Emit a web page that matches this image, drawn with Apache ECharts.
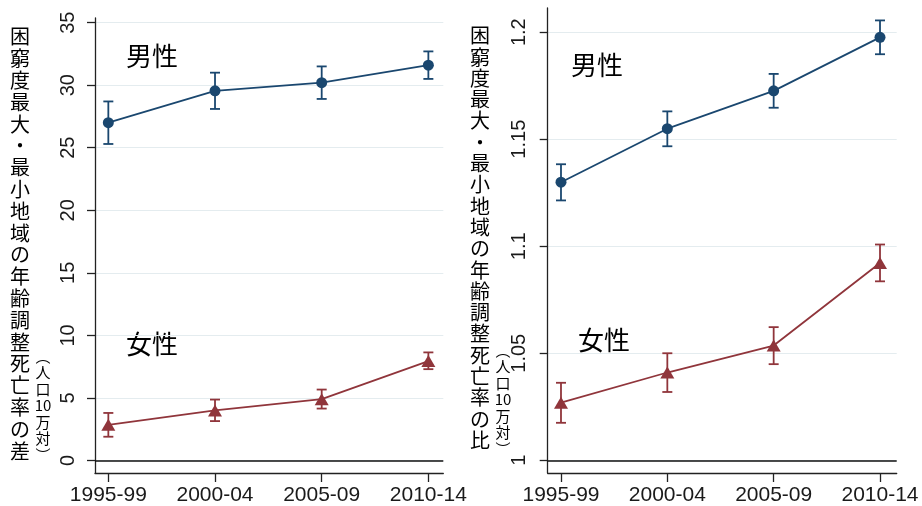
<!DOCTYPE html>
<html>
<head>
<meta charset="utf-8">
<script src="https://cdn.jsdelivr.net/npm/echarts@6/dist/echarts.min.js"></script>
<style>
  html, body { margin: 0; padding: 0; background: #ffffff; }
  #chart { width: 922px; height: 506px; }
</style>
</head>
<body>
<div id="chart"></div>
<script>
// Periods on the horizontal axis
const periods = ['1995-99', '2000-04', '2005-09', '2010-14'];

// Left panel: difference (per 100,000) between most and least deprived areas
const menDiff      = [27.0, 29.55, 30.2, 31.6];
const menDiffLow   = [25.3, 28.1, 28.9, 30.5];
const menDiffHigh  = [28.7, 31.0, 31.5, 32.7];
const womenDiff     = [2.85, 4.0, 4.9, 7.95];
const womenDiffLow  = [1.9, 3.15, 4.15, 7.3];
const womenDiffHigh = [3.8, 4.87, 5.67, 8.64];

// Right panel: ratio between most and least deprived areas
const menRatio      = [1.1299, 1.1549, 1.1726, 1.1976];
const menRatioLow   = [1.1214, 1.1467, 1.1647, 1.1897];
const menRatioHigh  = [1.1383, 1.1630, 1.1805, 1.2055];
const womenRatio     = [1.0269, 1.0410, 1.0536, 1.0922];
const womenRatioLow  = [1.0175, 1.0319, 1.0449, 1.0836];
const womenRatioHigh = [1.0362, 1.0500, 1.0622, 1.1008];

// Tick values
const diffTicks  = [0, 5, 10, 15, 20, 25, 30, 35];
const ratioTicks = [1, 1.05, 1.1, 1.15, 1.2];
const periodTicks = [0, 1, 2, 3];

const NAVY = '#1a476f';
const MAROON = '#90353b';
const GRID = '#e4ecef';
const NUM_FONT = '"Liberation Sans", Arial, sans-serif';
const CJK_FONT = '"Noto Sans CJK JP", sans-serif';

const toPoints = (vals) => vals.map((v, i) => [i, v]);
const toBars = (lo, hi) => lo.map((v, i) => [i, v, hi[i]]);

function errorBars(name, xi, yi, lo, hi, color) {
  return {
    type: 'custom', name: name, xAxisIndex: xi, yAxisIndex: yi, z: 3,
    data: toBars(lo, hi),
    encode: { x: 0, y: [1, 2] },
    renderItem: function (params, api) {
      const x = api.value(0);
      const a = api.coord([x, api.value(1)]);
      const b = api.coord([x, api.value(2)]);
      const half = 5;
      const st = { stroke: color, lineWidth: 1.8 };
      return {
        type: 'group',
        children: [
          { type: 'line', shape: { x1: a[0], y1: a[1], x2: b[0], y2: b[1] }, style: st },
          { type: 'line', shape: { x1: a[0] - half, y1: a[1], x2: a[0] + half, y2: a[1] }, style: st },
          { type: 'line', shape: { x1: b[0] - half, y1: b[1], x2: b[0] + half, y2: b[1] }, style: st }
        ]
      };
    }
  };
}

function lineSeries(name, xi, yi, vals, color, symbol, size) {
  return {
    type: 'line', name: name, xAxisIndex: xi, yAxisIndex: yi, z: 4,
    data: toPoints(vals),
    symbol: symbol, symbolSize: size, showSymbol: true,
    lineStyle: { color: color, width: 1.8 },
    itemStyle: { color: color },
    animation: false
  };
}

function baseLine(xi, yi, value) {
  return {
    type: 'line', xAxisIndex: xi, yAxisIndex: yi, data: [], z: 2,
    markLine: {
      silent: true, symbol: 'none', animation: false,
      label: { show: false },
      lineStyle: { color: '#111', width: 1.6, type: 'solid' },
      data: [{ yAxis: value }]
    }
  };
}

function xAxisDef(gi, min, max) {
  return {
    type: 'value', gridIndex: gi, min: min, max: max,
    axisLine: { show: true, onZero: false, lineStyle: { color: '#222', width: 1.3 } },
    axisTick: { show: true, length: 9, customValues: periodTicks, lineStyle: { color: '#222', width: 1.3 } },
    axisLabel: {
      customValues: periodTicks, margin: 12, fontSize: 21, lineHeight: 21,
      fontFamily: NUM_FONT, color: '#1a1a1a',
      formatter: (v) => periods[Math.round(v)]
    },
    splitLine: { show: false }
  };
}

function yAxisDef(gi, min, max, ticks, margin) {
  return {
    type: 'value', gridIndex: gi, min: min, max: max,
    axisLine: { show: true, onZero: false, lineStyle: { color: '#222', width: 1.3 } },
    axisTick: { show: true, length: 8, customValues: ticks, lineStyle: { color: '#222', width: 1.3 } },
    axisLabel: {
      customValues: ticks, rotate: 90, margin: margin, fontSize: 20, lineHeight: 20,
      fontFamily: NUM_FONT, color: '#1a1a1a'
    },
    splitLine: { show: true, lineStyle: { color: GRID, width: 1.2 } }
  };
}

const vert = (chars) => chars.join('\n');
const bigTitleDiff  = vert(Array.from('困窮度最大・最小地域の年齢調整死亡率の差'));
const bigTitleRatio = vert(Array.from('困窮度最大・最小地域の年齢調整死亡率の比'));
const unitTitle = vert(['︵', '人', '口', '10', '万', '対', '︶']);

function textEl(x, y, text, size, lineHeight, align, vAlign) {
  return {
    type: 'text', x: x, y: y, silent: true,
    style: {
      text: text, fontSize: size, fontFamily: CJK_FONT, fill: '#000',
      align: align, verticalAlign: vAlign, lineHeight: lineHeight
    }
  };
}

const chart = echarts.init(document.getElementById('chart'), null, { renderer: 'canvas' });
chart.setOption({
  animation: false,
  backgroundColor: '#ffffff',
  grid: [
    { left: 95, top: 18, width: 348.3, height: 455 },
    { left: 547.7, top: 8, width: 349, height: 465.3 }
  ],
  xAxis: [ xAxisDef(0, -0.125, 3.14), xAxisDef(1, -0.125, 3.157) ],
  yAxis: [ yAxisDef(0, -1, 35.37, diffTicks, 16.5), yAxisDef(1, 0.99405, 1.2113, ratioTicks, 18) ],
  series: [
    baseLine(0, 0, 0),
    baseLine(1, 1, 1),
    errorBars('男性', 0, 0, menDiffLow, menDiffHigh, NAVY),
    lineSeries('男性', 0, 0, menDiff, NAVY, 'circle', 11),
    errorBars('女性', 0, 0, womenDiffLow, womenDiffHigh, MAROON),
    lineSeries('女性', 0, 0, womenDiff, MAROON, 'triangle', [14, 12]),
    errorBars('男性', 1, 1, menRatioLow, menRatioHigh, NAVY),
    lineSeries('男性', 1, 1, menRatio, NAVY, 'circle', 11),
    errorBars('女性', 1, 1, womenRatioLow, womenRatioHigh, MAROON),
    lineSeries('女性', 1, 1, womenRatio, MAROON, 'triangle', [14, 12])
  ],
  graphic: [
    textEl(20, 26, bigTitleDiff, 20, 21.8, 'center', 'top'),
    textEl(43, 348, unitTitle, 15, 16.5, 'center', 'top'),
    textEl(480, 25, bigTitleRatio, 20, 21.3, 'center', 'top'),
    textEl(503, 342, unitTitle, 15, 16.5, 'center', 'top'),
    textEl(152, 56, '男性', 26, 30, 'center', 'middle'),
    textEl(152, 344, '女性', 26, 30, 'center', 'middle'),
    textEl(597, 65, '男性', 26, 30, 'center', 'middle'),
    textEl(604, 340, '女性', 26, 30, 'center', 'middle')
  ]
});
</script>
</body>
</html>
